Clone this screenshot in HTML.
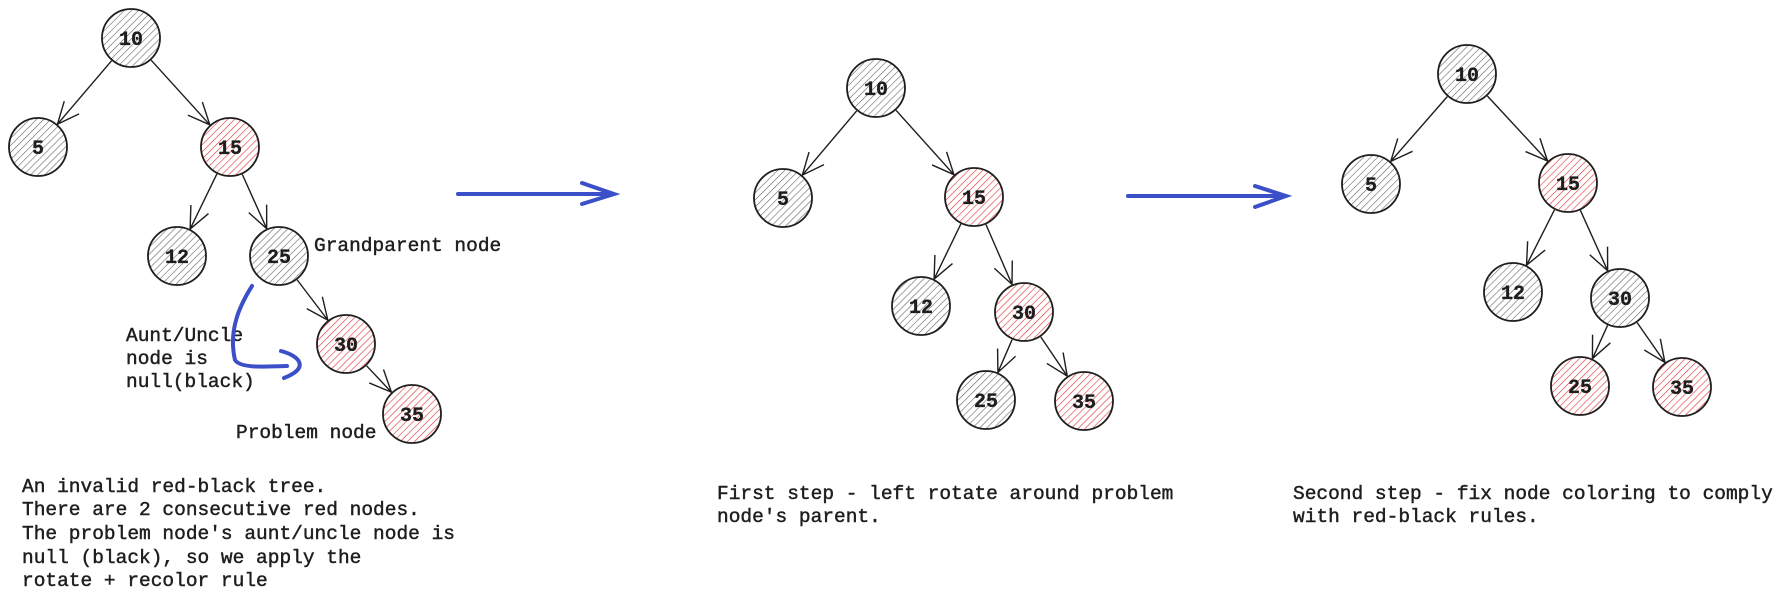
<!DOCTYPE html>
<html><head><meta charset="utf-8"><style>
html,body{margin:0;padding:0;background:#fff;width:1779px;height:612px;overflow:hidden}
svg{display:block}
text{font-family:"Liberation Mono",monospace;fill:#1e1e1e;stroke:#1e1e1e;stroke-width:0.45}
</style></head><body>
<svg id="s" width="1779" height="612" viewBox="0 0 1779 612" xmlns="http://www.w3.org/2000/svg">
<defs>
<pattern id="hg" width="5" height="5" patternUnits="userSpaceOnUse" patternTransform="rotate(45)"><line x1="0" y1="0" x2="0" y2="5" stroke="#666" stroke-width="1.2"/></pattern>
<pattern id="hr" width="5" height="5" patternUnits="userSpaceOnUse" patternTransform="rotate(45)"><line x1="0" y1="0" x2="0" y2="5" stroke="#e03131" stroke-width="1.2"/></pattern>
</defs>
<g id="g"></g>
<g font-size="19.5">
<text x="314" y="251">Grandparent node</text>
<text x="126" y="341">Aunt/Uncle</text>
<text x="126" y="364">node is</text>
<text x="126" y="387">null(black)</text>
<text x="236" y="438">Problem node</text>
<text x="22" y="492">An invalid red-black tree.</text>
<text x="22" y="515">There are 2 consecutive red nodes.</text>
<text x="22" y="539">The problem node's aunt/uncle node is</text>
<text x="22" y="563">null (black), so we apply the</text>
<text x="22" y="586">rotate + recolor rule</text>
<text x="717" y="499">First step - left rotate around problem</text>
<text x="717" y="522">node's parent.</text>
<text x="1293" y="499">Second step - fix node coloring to comply</text>
<text x="1293" y="522">with red-black rules.</text>
</g>
<g stroke="#3b4fc8" stroke-width="4" fill="none" stroke-linecap="round">
<path d="M458 194 L614 194 M582 183 L614 194 L582 204"/>
<path d="M1128 196 L1286 196 M1255 186 L1286 196 L1255 207"/>
<path d="M252 286 C240 305 228 330 235 360 C240 368 262 367 287 366 M281 351 C300 356 310 368 284 378"/>
</g>
</svg>
<script>
const g=document.getElementById('g');let h='';
const R=29;
function tree(n,e){
 e.forEach(([a,b])=>{const p=n[a],c=n[b];const dx=c[0]-p[0],dy=c[1]-p[1],L=Math.hypot(dx,dy),ux=dx/L,uy=dy/L;
  const x1=p[0]+ux*(R+1),y1=p[1]+uy*(R+1),x2=c[0]-ux*(R+1),y2=c[1]-uy*(R+1);
  const ang=Math.atan2(uy,ux),al=24,sp=0.42;
  const ax=x2-al*Math.cos(ang-sp),ay=y2-al*Math.sin(ang-sp),bx=x2-al*Math.cos(ang+sp),by=y2-al*Math.sin(ang+sp);
  h+=`<path d="M${x1} ${y1}L${x2} ${y2}M${ax} ${ay}L${x2} ${y2}L${bx} ${by}" stroke="#1e1e1e" stroke-width="1.4" fill="none"/>`;});
 for(const k in n){const [x,y,r]=n[k];
  h+=`<circle cx="${x}" cy="${y}" r="${R}" fill="url(#${r?'hr':'hg'})" stroke="#1e1e1e" stroke-width="1.8"/>`;
  h+=`<text x="${x}" y="${y+7}" text-anchor="middle" font-size="20" font-weight="bold" style="stroke-width:0.3">${k}</text>`;}
}
tree({'10':[131,38,0],'5':[38,147,0],'15':[230,147,1],'12':[177,256,0],'25':[279,256,0],'30':[346,344,1],'35':[412,414,1]},
 [['10','5'],['10','15'],['15','12'],['15','25'],['25','30'],['30','35']]);
tree({'10':[876,88,0],'5':[783,198,0],'15':[974,197,1],'12':[921,306,0],'30':[1024,312,1],'25':[986,400,0],'35':[1084,401,1]},
 [['10','5'],['10','15'],['15','12'],['15','30'],['30','25'],['30','35']]);
tree({'10':[1467,74,0],'5':[1371,184,0],'15':[1568,183,1],'12':[1513,292,0],'30':[1620,298,0],'25':[1580,386,1],'35':[1682,387,1]},
 [['10','5'],['10','15'],['15','12'],['15','30'],['30','25'],['30','35']]);
g.innerHTML=h;
</script>
</body></html>
